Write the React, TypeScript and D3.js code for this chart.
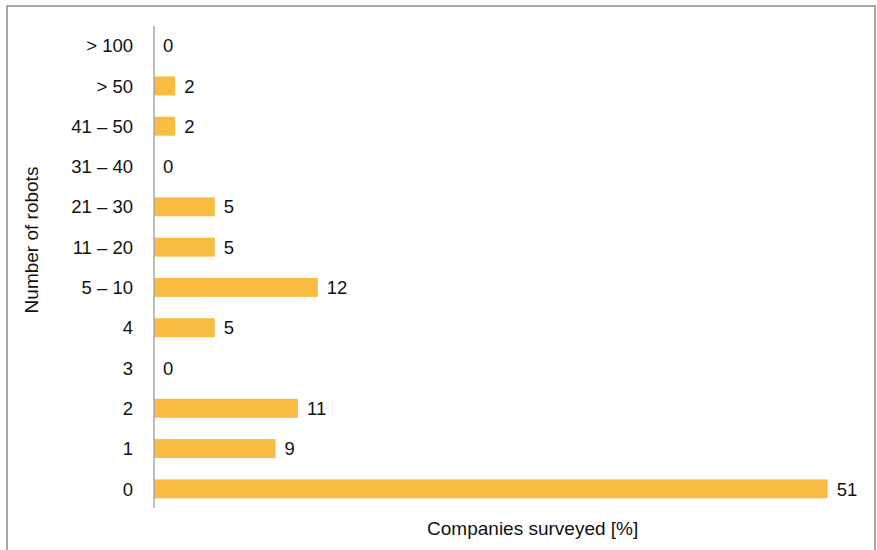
import React from "react";
import * as d3 from "d3";

const categories = ["> 100", "> 50", "41 – 50", "31 – 40", "21 – 30", "11 – 20", "5 – 10", "4", "3", "2", "1", "0"];
const values = [0, 1.6, 1.6, 0, 4.6, 4.6, 12.4, 4.6, 0, 10.9, 9.2, 51.0];
const xTitle = "Companies surveyed [%]";
const yTitle = "Number of robots";

const W = 877;
const H = 550;
const FONT = "'Liberation Sans', Arial, Helvetica, sans-serif";

export default function App() {
  const y = d3
    .scaleBand<string>()
    .domain(categories)
    .range([25.5, 509])
    .paddingInner(0.53)
    .paddingOuter(0.265);
  const x = d3.scaleLinear().domain([0, 51]).range([154, 827.7]);

  return (
    <svg
      width={W}
      height={H}
      style={{ position: "absolute", left: 0, top: 0, background: "#fff" }}
      fontFamily={FONT}
    >
      <rect x={7} y={6} width={868} height={560} fill="#fff" stroke="#a6a6a6" strokeWidth={2} />
      {categories.map((c, i) => {
        const yc = (y(c) as number) + y.bandwidth() / 2;
        return (
          <g key={c}>
            {values[i] > 0 && (
              <rect
                x={x(0)}
                y={y(c)}
                width={x(values[i]) - x(0)}
                height={y.bandwidth()}
                fill="#F9BC43"
              />
            )}
            <text x={133} y={yc} dy="0.36em" textAnchor="end" fontSize={18.5} fill="#111">
              {c}
            </text>
            <text x={x(values[i]) + 9} y={yc} dy="0.36em" textAnchor="start" fontSize={18.5} fill="#111">
              {Math.round(values[i])}
            </text>
          </g>
        );
      })}
      <line x1={154} x2={154} y1={26} y2={508} stroke="#a8a8a8" strokeWidth={1.5} />
      <text x={532.7} y={535} textAnchor="middle" fontSize={19} fill="#111">
        {xTitle}
      </text>
      <text
        transform={`translate(38,240) rotate(-90)`}
        textAnchor="middle"
        fontSize={19}
        fill="#111"
      >
        {yTitle}
      </text>
    </svg>
  );
}
